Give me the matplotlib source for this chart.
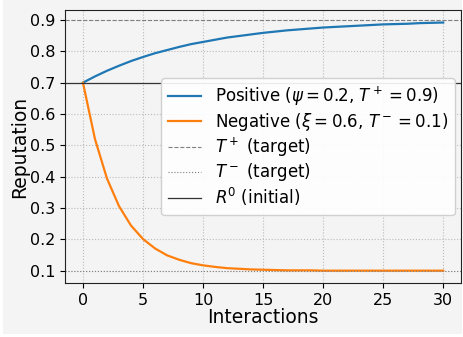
import numpy as np
import matplotlib
matplotlib.use("Agg")
import matplotlib.pyplot as plt
from matplotlib.patches import Rectangle

interactions = list(range(31))
positive = [0.700, 0.720, 0.738, 0.754, 0.769, 0.782, 0.794, 0.804, 0.814, 0.823,
            0.830, 0.837, 0.844, 0.849, 0.854, 0.859, 0.863, 0.867, 0.870, 0.873,
            0.876, 0.878, 0.880, 0.882, 0.884, 0.886, 0.887, 0.888, 0.890, 0.891,
            0.892]
negative = [0.700, 0.520, 0.394, 0.306, 0.244, 0.201, 0.171, 0.149, 0.135, 0.124,
            0.117, 0.112, 0.108, 0.106, 0.104, 0.103, 0.102, 0.101, 0.101, 0.101,
            0.100, 0.100, 0.100, 0.100, 0.100, 0.100, 0.100, 0.100, 0.100, 0.100,
            0.100]
t_plus = 0.9
t_minus = 0.1
r0 = 0.7

bg = '#f4f4f4'
fig = plt.figure(figsize=(4.64, 3.37), dpi=100, facecolor='white')
# grey panel with a thin white margin, as in the original screenshot
fig.patches.append(Rectangle((3 / 464, 3 / 337), 459 / 464, 334 / 337,
                             transform=fig.transFigure, facecolor=bg,
                             edgecolor='none', zorder=-10))
ax = fig.add_axes([0.14, 0.16, 0.854, 0.81])
ax.set_facecolor(bg)

ax.plot(interactions, positive, color='#1f77b4', lw=1.6,
        label=r'Positive ($\psi = 0.2$, $T^+ = 0.9$)')
ax.plot(interactions, negative, color='#ff7f0e', lw=1.6,
        label=r'Negative ($\xi = 0.6$, $T^- = 0.1$)')
ax.axhline(t_plus, color='gray', ls='--', lw=0.8, label=r'$T^+$ (target)')
ax.axhline(t_minus, color='gray', ls=':', lw=0.8, label=r'$T^-$ (target)')
ax.axhline(r0, color='#333333', ls='-', lw=0.9, label=r'$R^0$ (initial)')

ax.grid(True, ls=':', color='#bbbbbb', lw=0.8)
ax.set_xticks([0, 5, 10, 15, 20, 25, 30])
ax.set_yticks([0.1, 0.2, 0.3, 0.4, 0.5, 0.6, 0.7, 0.8, 0.9])
ax.tick_params(labelsize=11.5)
ax.set_xlabel('Interactions', fontsize=13.5, labelpad=0)
ax.set_ylabel('Reputation', fontsize=13.5, labelpad=0.5)
for s in ax.spines.values():
    s.set_color('#222222')

leg = ax.legend(fontsize=12, loc='upper right', bbox_to_anchor=(1.0, 0.775),
                facecolor='white', framealpha=0.9, borderaxespad=0.4,
                labelspacing=0.16)

fig.savefig('out.png', dpi=100)
